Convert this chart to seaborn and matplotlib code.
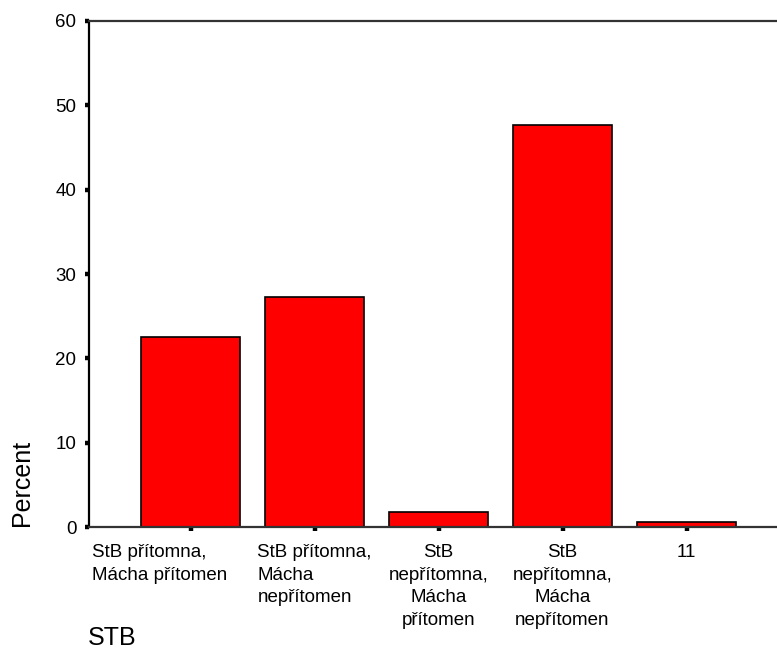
import matplotlib
matplotlib.use('Agg')
import matplotlib.pyplot as plt
import matplotlib.transforms as mtransforms
import seaborn as sns
import pandas as pd

# Values
categories = ['StB přítomna,\nMácha přítomen',
              'StB přítomna,\nMácha\nnepřítomen',
              'StB\nnepřítomna,\nMácha\npřítomen',
              'StB\nnepřítomna,\nMácha\nnepřítomen',
              '11']
percent = [22.5, 27.3, 1.8, 47.7, 0.6]
yticks = [0, 10, 20, 30, 40, 50, 60]

df = pd.DataFrame({'STB': categories, 'Percent': percent})

sns.set_style('white')
plt.rcParams['font.family'] = ['Liberation Sans', 'DejaVu Sans']

fig = plt.figure(figsize=(7.77, 6.5), dpi=100)
ax = fig.add_axes([0.1145, 0.1892, 0.8855, 0.7785])

sns.barplot(data=df, x='STB', y='Percent', color='#ff0000', saturation=1,
            edgecolor='black', linewidth=1.2, width=0.8, ax=ax)

ax.set_xlim(-0.82, 4.73)
ax.set_ylim(0, 60)
ax.set_yticks(yticks)
ax.set_xlabel('')
ax.set_ylabel('')

for side in ['left', 'top', 'bottom']:
    ax.spines[side].set_visible(True)
    ax.spines[side].set_color('#333333')
    ax.spines[side].set_linewidth(1.6)
ax.spines['left'].set_color('black')
ax.spines['right'].set_visible(False)

ax.tick_params(axis='both', direction='out', length=3, width=3.2, color='black',
               labelsize=13.5, labelcolor='black', bottom=True, left=True)
ax.tick_params(axis='y', pad=6)
ax.tick_params(axis='x', pad=9)

# alignment of the category labels like the original
aligns = ['left', 'left', 'center', 'center', 'center']
shifts = [-31, 0, 0, 0, 0]
for lab, al, sh in zip(ax.get_xticklabels(), aligns, shifts):
    lab.set_multialignment(al)
    lab.set_linespacing(1.45)
    if sh:
        lab.set_transform(lab.get_transform() +
                          mtransforms.ScaledTranslation(sh / 100, 0, fig.dpi_scale_trans))

fig.text(22 / 777, 1 - 526 / 650, 'Percent', rotation=90, fontsize=18,
         ha='center', va='bottom', color='black')
fig.text(88 / 777, 1 - 638 / 650, 'STB', fontsize=18, ha='left', va='center',
         color='black')

fig.savefig('out.png', dpi=100)
